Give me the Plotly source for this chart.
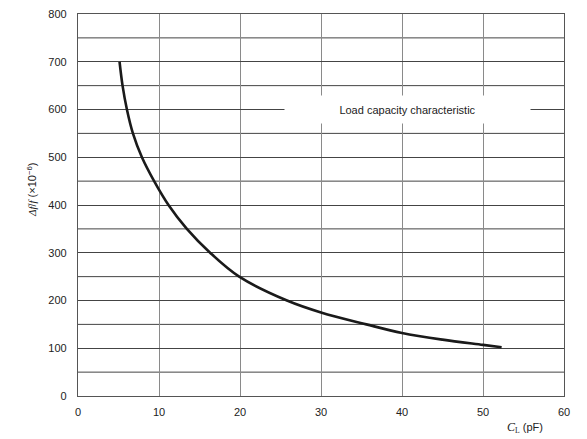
import plotly.graph_objects as go

# load capacitance (pF) vs frequency shift (x10^-6)
cl_pf = [5.13, 5.5, 6.04, 6.78, 7.89, 9.4, 11.17, 13.44, 16.31, 19.9, 25.8, 30, 35.6, 40, 45, 50, 52.3]
df_f = [700, 650, 600, 550, 500, 450, 400, 350, 300, 250, 200, 175, 150, 132, 118, 107, 102]

x_ticks = [0, 10, 20, 30, 40, 50, 60]
y_ticks = [0, 100, 200, 300, 400, 500, 600, 700, 800]
y_minor = [50, 150, 250, 350, 450, 550, 650, 750]

fig = go.Figure()
fig.add_trace(go.Scatter(
    x=cl_pf, y=df_f, mode='lines',
    line=dict(color='#1a1a1a', width=2.6, shape='spline', smoothing=1.0),
    showlegend=False, hoverinfo='skip'))

# page body has an 8px margin, so the figure is shrunk to fit the window
fig.update_layout(
    width=579, height=431,
    margin=dict(l=70, r=23, t=6, b=43),
    paper_bgcolor='white', plot_bgcolor='white',
    font=dict(family='Liberation Sans, Arial, sans-serif', size=11, color='#222'),
    showlegend=False,
)
fig.update_xaxes(
    range=[0, 60], tickvals=x_ticks, showgrid=True, gridcolor='#8a8a8a', gridwidth=1.3,
    zeroline=False, showline=True, linecolor='#555', linewidth=1.2, mirror=True,
    ticks='', ticklabelstandoff=6, automargin=False)
fig.update_yaxes(
    range=[0, 800], tickvals=y_ticks, showgrid=True, gridcolor='#444', gridwidth=1,
    zeroline=False, showline=True, linecolor='#555', linewidth=1.2, mirror=True,
    ticks='', ticklabelstandoff=8, ticklabeloverflow='allow', automargin=False)
# horizontal grid every 50
for v in y_minor:
    fig.add_hline(y=v, line=dict(color='#444', width=1), layer='below')

fig.add_annotation(
    x=40.67, y=600, xref='x', yref='y', text='Load capacity characteristic',
    showarrow=False, bgcolor='white', width=243, height=25,
    font=dict(size=11, color='#222'))

fig.add_annotation(
    x=-0.1145, y=0.54, xref='paper', yref='paper', textangle=-90,
    text="<i><span style='font-family:Liberation Serif'>Δf</span></i>/<i><span style='font-family:Liberation Serif'>f</span></i> (×10<sup>−6</sup>)",
    showarrow=False, font=dict(size=11, color='#222'))

fig.add_annotation(
    x=0.96, y=-0.108, xref='paper', yref='paper',
    text="<i><span style='font-family:Liberation Serif;font-size:12px'>C</span></i><sub><span style='font-family:Liberation Serif'>L</span></sub> (pF)",
    showarrow=False, font=dict(size=11, color='#222'))

fig.write_html("out.html")
